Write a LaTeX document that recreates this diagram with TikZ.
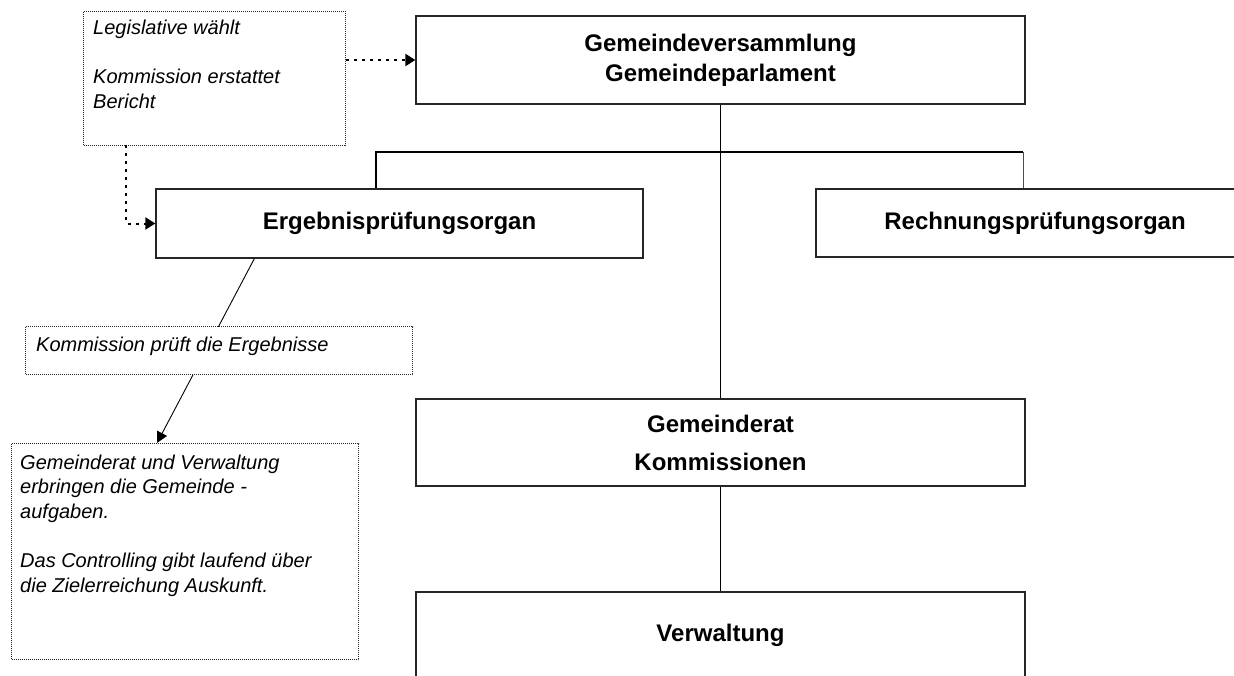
\documentclass[tikz,border=0pt]{standalone}
\usepackage{fontspec}
\setmainfont{Liberation Sans}
\usetikzlibrary{arrows.meta,calc}
\begin{document}
\begin{tikzpicture}[x=1pt,y=-1pt,
  solidbox/.style={draw=black!85,line width=1.3pt,fill=white,rectangle,inner sep=0pt,
    font=\fontsize{24}{30}\selectfont\bfseries,align=center},
  dotbox/.style={draw=black!85,line width=1pt,dash pattern=on 1pt off 1pt,fill=white,rectangle,inner sep=0pt},
  itext/.style={font=\fontsize{20}{24.7}\selectfont\itshape,align=left,inner sep=0pt},
  tree/.style={line width=1.2pt,draw=black},
  dotarrow/.style={line width=2pt,dash pattern=on 3pt off 5pt,-{Triangle[length=10pt,width=12pt]}},
  solidarrow/.style={line width=0.9pt,-{Triangle[length=11pt,width=11pt]}}]
\useasboundingbox (0,0) rectangle (1234,675);

% main boxes
\node[solidbox,minimum width=609pt,minimum height=88pt] (gem) at (720.5,60) {Gemeindeversammlung\\Gemeindeparlament};
\node[solidbox,minimum width=487pt,minimum height=69pt] (erg) at (399.5,223.5) {Ergebnisprüfungsorgan};
\node[solidbox,minimum width=438pt,minimum height=68pt] (rp) at (1035,223) {Rechnungsprüfungsorgan};
\node[solidbox,minimum width=609pt,minimum height=87pt,font=\fontsize{24}{38}\selectfont\bfseries] (gr) at (720.5,442.5) {Gemeinderat\\Kommissionen};
\node[solidbox,minimum width=609pt,minimum height=86pt] (vw) at (720.5,635) {Verwaltung};

% tree lines
\coordinate (tl) at (376,152);
\coordinate (tr) at (1023,152);
\draw[tree] (gem.south) -- (gr.north);
\draw[tree] (gr.south) -- (vw.north);
\draw[tree] (tl |- erg.north) -- (tl) -- (tr);
\draw[tree,line width=0.8pt,draw=black!70] (tr) -- (tr |- rp.north);

% legislative note
\node[dotbox,minimum width=262pt,minimum height=134pt,anchor=north west] (leg) at (83,11) {};
\node[itext,anchor=base west] (legt) at (93,108.1) {Legislative wählt\\[24.7pt]Kommission erstattet\\Bericht};
\draw[dotarrow] (gem.west -| leg.east) -- (gem.west);
\coordinate (lc) at (126,145);
\draw[dotarrow] (lc) |- (erg.west);

% bottom-left note
\node[dotbox,minimum width=347pt,minimum height=216pt,anchor=north west] (bl) at (11,443) {};
\node[itext,anchor=base west] (blt) at (20,592.5) {Gemeinderat und Verwaltung\\erbringen die Gemeinde -\\aufgaben.\\[24.7pt]Das Controlling gibt laufend über\\die Zielerreichung Auskunft.};

% arrow from Ergebnisprüfungsorgan through commission note
\coordinate (es) at ($(erg.south west)+(99,0)$);
\coordinate (bt) at ($(bl.north west)+(146,0)$);
\draw[solidarrow] (es) -- (bt);

% commission note (covers the arrow)
\node[dotbox,minimum width=387pt,minimum height=48pt,anchor=north west] (kom) at (25,326) {};
\node[itext,anchor=base west] (komt) at (36,351) {Kommission prüft die Ergebnisse};
\end{tikzpicture}
\end{document}
